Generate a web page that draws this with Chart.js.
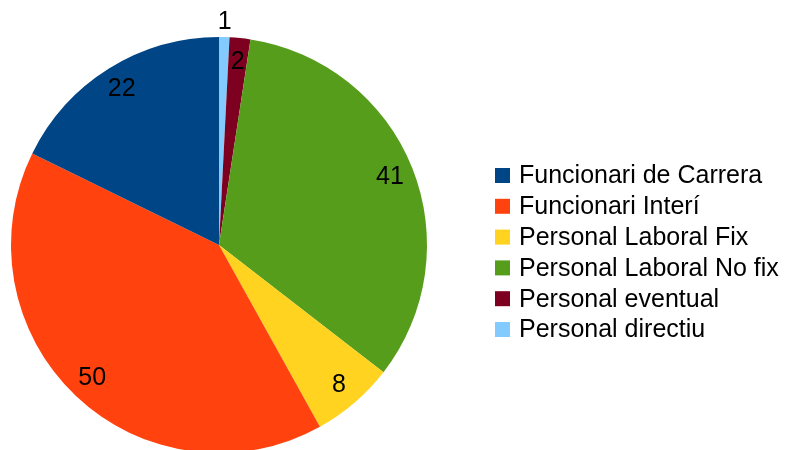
<!DOCTYPE html>
<html>
<head>
<meta charset="utf-8">
<script src="https://cdn.jsdelivr.net/npm/chart.js@4/dist/chart.umd.min.js"></script>
<style>
  html, body { margin: 0; padding: 0; background: #fff; overflow: hidden; }
  #wrap { width: 790px; height: 450px; overflow: hidden; }
</style>
</head>
<body>
<div id="wrap"><canvas id="myChart" width="790" height="460"></canvas></div>
<script>
// dades del gràfic (ordre de la llegenda)
var categories = ['Funcionari de Carrera', 'Funcionari Interí', 'Personal Laboral Fix', 'Personal Laboral No fix', 'Personal eventual', 'Personal directiu'];
var values = [22, 50, 8, 41, 2, 1];
var colors = ['#004586', '#ff420e', '#ffd320', '#579d1c', '#7e0021', '#83caff'];

var fontFamily = '"Liberation Sans", Arial, sans-serif';

// LibreOffice dibuixa en sentit antihorari: invertim per a Chart.js
var revLabels = categories.slice().reverse();
var revValues = values.slice().reverse();
var revColors = colors.slice().reverse();

var labelsPlugin = {
    id: 'valueLabels',
    afterDatasetsDraw: function (chart) {
        var ctx = chart.ctx;
        var meta = chart.getDatasetMeta(0);
        ctx.save();
        ctx.font = '25px ' + fontFamily;
        ctx.fillStyle = '#000';
        ctx.textAlign = 'center';
        ctx.textBaseline = 'middle';
        meta.data.forEach(function (arc, i) {
            var txt = String(revValues[i]);
            var mid = (arc.startAngle + arc.endAngle) / 2;
            var r = arc.outerRadius * 0.885;
            var w = ctx.measureText(txt).width;
            if ((arc.endAngle - arc.startAngle) * r < w + 4) {
                r = arc.outerRadius + 15;
            }
            ctx.fillText(txt, arc.x + Math.cos(mid) * r, arc.y + Math.sin(mid) * r);
        });
        ctx.restore();
    }
};

var legendPlugin = {
    id: 'sideLegend',
    afterDraw: function (chart) {
        var ctx = chart.ctx;
        ctx.save();
        ctx.font = '25px ' + fontFamily;
        ctx.textAlign = 'left';
        ctx.textBaseline = 'middle';
        categories.forEach(function (c, i) {
            var cy = 175.5 + i * 30.8;
            ctx.fillStyle = colors[i];
            ctx.fillRect(495, cy - 7.5, 15, 15);
            ctx.fillStyle = '#000';
            ctx.fillText(c, 519, cy + 1);
        });
        ctx.restore();
    }
};

var ctx = document.getElementById('myChart').getContext('2d');
var myChart = new Chart(ctx, {
    type: 'pie',
    data: {
        labels: revLabels,
        datasets: [{
            data: revValues,
            backgroundColor: revColors,
            borderWidth: 0,
            hoverOffset: 0,
            offset: 0
        }]
    },
    options: {
        responsive: false,
        animation: false,
        layout: { padding: { left: 11, right: 363, top: 37, bottom: 7 } },
        plugins: {
            legend: { display: false },
            tooltip: { enabled: false }
        }
    },
    plugins: [labelsPlugin, legendPlugin]
});
</script>
</body>
</html>
